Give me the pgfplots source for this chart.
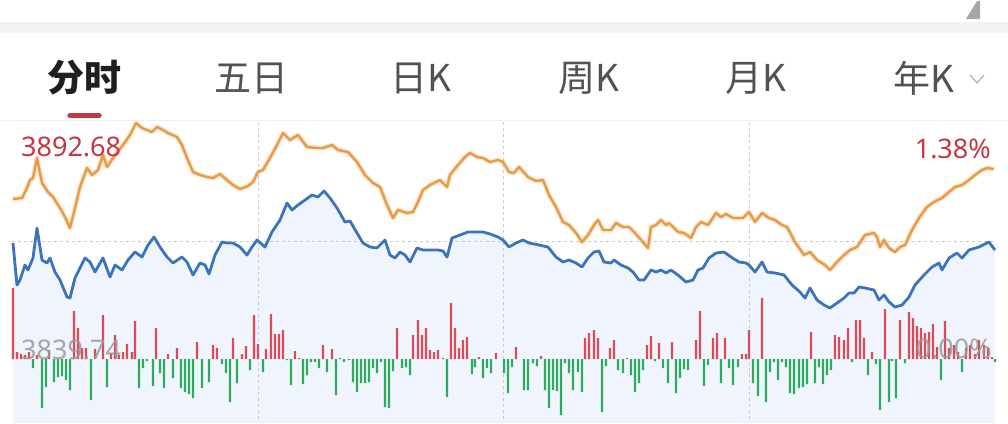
\documentclass[border=0pt]{standalone}
\usepackage{pgfplots}
\pgfplotsset{compat=1.18}
\usepackage{pgfplotstable}
\usepackage{fontspec}
\setmainfont{Noto Sans}
\newfontfamily\cjk{Noto Sans CJK SC}
\newfontfamily\num{Noto Sans}
\definecolor{orangeL}{HTML}{E99A45}
\definecolor{blueL}{HTML}{3B74BA}
\definecolor{fillB}{HTML}{F0F5FD}
\definecolor{redB}{HTML}{DB4A57}
\definecolor{greenB}{HTML}{2DAA5D}
\definecolor{redT}{HTML}{C43844}
\definecolor{grid}{HTML}{C9C9C9}

% pixel coordinates (x, y from top)
\pgfplotstableread{
x y
13 199
22 198
27 188
30 180
33 178
37 158
42 183
48 192
53 197
60 208
65 217
70 228
75 208
80 187
87 168
92 175
98 170
103 155
107 167
115 155
123 145
130 135
136 123
142 128
147 130
152 132
157 127
163 130
168 133
177 137
182 145
187 158
193 172
200 175
207 177
213 178
220 174
227 180
233 185
240 189
248 186
253 182
258 172
263 170
270 158
277 145
283 133
290 140
298 135
307 147
317 148
323 148
332 145
338 150
348 152
357 162
365 175
373 183
380 187
387 205
393 218
398 210
407 213
413 212
418 202
423 190
430 185
440 180
447 187
450 175
458 165
465 157
470 153
477 157
483 158
490 162
498 160
503 162
509 172
514 173
519 167
528 177
536 181
543 180
549 195
556 207
563 222
569 225
576 233
582 242
588 235
594 225
598 220
603 230
611 230
616 223
623 227
629 227
634 232
643 242
648 248
651 227
656 225
661 220
666 225
669 223
678 232
684 233
691 238
696 227
701 222
708 225
716 213
721 217
726 214
733 218
743 218
749 212
755 222
762 213
769 218
775 220
782 225
787 227
795 242
804 255
810 252
817 260
825 265
830 270
837 262
844 255
850 250
857 247
865 235
874 233
877 237
880 247
884 240
889 248
895 252
900 247
905 245
912 230
919 218
927 207
934 202
942 198
949 192
955 187
962 185
969 180
975 175
982 170
987 168
994 169
}\orangedata

\pgfplotstableread{
x y
13 243
17 285
20 280
25 265
28 270
33 258
37 228
42 260
47 263
50 258
55 272
60 280
67 297
70 298
75 278
80 268
85 258
90 262
95 272
100 263
103 258
110 277
115 265
122 270
128 260
135 252
142 257
148 245
154 237
160 247
167 257
173 263
182 257
187 262
193 275
200 263
205 265
209 274
215 255
222 242
227 243
233 243
240 247
247 255
252 247
257 240
265 247
272 232
280 220
287 203
292 210
298 205
305 200
312 195
318 197
324 191
330 198
337 208
345 222
350 221
357 233
363 243
370 247
377 248
385 240
390 255
395 258
400 252
405 255
410 262
417 248
423 250
432 250
438 250
443 251
447 257
452 238
460 235
468 232
477 232
483 232
490 234
498 237
503 240
509 247
516 243
523 240
529 243
539 245
548 247
556 257
563 262
569 260
576 263
582 267
588 258
594 252
599 251
604 262
611 263
614 260
621 265
628 268
633 272
639 280
644 280
651 270
656 272
661 270
666 273
671 270
678 275
686 282
693 280
698 270
703 268
709 258
716 253
724 252
731 257
739 262
746 263
749 265
755 272
762 262
767 272
775 273
784 275
792 285
800 292
805 298
810 288
817 300
824 305
830 308
837 303
844 298
849 293
854 293
859 287
865 288
874 290
879 300
884 295
889 302
895 307
902 305
909 297
915 285
924 275
932 267
939 263
942 270
949 258
957 253
962 258
969 250
979 247
989 242
995 250
}\bluedata

\pgfplotstableread{
x h
13 71
17 7
21 5
25 4
29 7
37 4
49 9
74 48
78 31
82 11
86 11
95 10
103 44
111 6
115 24
119 4
123 7
127 15
132 7
135 38
156 31
168 5
177 11
197 17
213 14
217 11
233 21
242 5
246 13
254 44
258 15
266 10
271 45
275 25
279 25
283 29
295 8
299 1
323 14
332 10
340 1
397 31
413 24
418 39
422 24
426 31
430 9
434 7
438 9
443 1
451 56
455 31
459 11
463 19
467 22
479 2
496 6
516 12
541 3
585 21
589 26
594 29
598 21
610 11
614 19
627 1
647 14
651 23
659 16
672 17
696 19
700 48
713 21
717 26
725 21
742 5
746 5
749 29
762 61
811 27
835 24
839 22
844 19
848 31
856 39
860 39
864 21
872 7
885 50
900 39
909 47
913 41
917 33
921 31
925 26
929 27
933 35
937 12
945 38
949 11
954 14
958 7
966 11
970 14
975 5
979 19
984 14
988 11
992 2
}\reddata

\pgfplotstableread{
x h
33 -9
42 -49
46 -28
54 -23
58 -18
62 -17
66 -21
70 -31
91 -41
107 -28
139 -29
143 -9
147 -2
153 -27
160 -14
164 -29
173 -19
181 -29
185 -33
189 -35
193 -39
202 -29
209 -23
222 -5
226 -14
230 -43
237 -24
250 -11
263 -13
287 -1
291 -26
303 -25
307 -16
311 -3
315 -3
319 -9
327 -13
336 -36
344 -3
349 -1
353 -23
357 -33
361 -24
365 -24
369 -23
373 -9
377 -14
381 -3
385 -48
389 -49
393 -12
402 -9
406 -8
410 -16
447 -38
472 -15
475 -8
483 -19
487 -9
491 -14
504 -14
508 -34
512 -8
524 -31
528 -31
533 -4
537 -7
545 -31
549 -49
553 -31
557 -32
561 -56
565 -4
569 -14
573 -31
578 -13
582 -33
602 -53
606 -7
618 -11
623 -14
631 -16
635 -33
639 -24
643 -11
655 -2
663 -9
668 -24
676 -34
680 -19
684 -10
688 -11
704 -27
708 -6
721 -24
729 -9
733 -26
738 -8
753 -24
758 -37
766 -43
770 -13
774 -3
778 -21
782 -3
786 -8
790 -34
794 -35
799 -29
803 -28
807 -25
815 -24
819 -8
823 -25
827 -16
831 -11
852 -3
868 -16
876 -5
880 -51
889 -43
892 -2
896 -39
905 -4
941 -21
962 -13
995 -3
}\greendata

\pgfplotsset{base/.style={width=1008pt,height=423pt,scale only axis,
  xmin=0,xmax=1008,hide axis,clip=false,at={(0,0)},anchor=south west}}

\begin{document}
\begin{tikzpicture}
\fill[white] (0,0) rectangle (1008pt,423pt);
% background layer
\begin{axis}[base,ymin=0,ymax=423,y dir=reverse]
  \addplot[fill=fillB,draw=none] table[x=x,y=y] {\bluedata} -- (axis cs:995,423) -- (axis cs:13,423) -- cycle;
  \fill[color=black!5] (axis cs:0,22) rectangle (axis cs:1008,33);
  \fill[color=black!35] (axis cs:977,1) -- (axis cs:980,1) -- (axis cs:980,19) -- (axis cs:966,19) -- cycle;
  \draw[color=black!6, line width=1pt] (axis cs:0,120.5) -- (axis cs:1008,120.5);
  \draw[grid,dash pattern=on 3pt off 3pt,line width=0.9pt] (axis cs:12,241) -- (axis cs:995,241);
  \draw[grid,dash pattern=on 3pt off 3pt,line width=0.9pt] (axis cs:258,122) -- (axis cs:258,420);
  \draw[grid,dash pattern=on 3pt off 3pt,line width=0.9pt] (axis cs:503,122) -- (axis cs:503,420);
  \draw[grid,dash pattern=on 3pt off 3pt,line width=0.9pt] (axis cs:749,122) -- (axis cs:749,420);
\end{axis}
% bars
\begin{axis}[base,ymin=-64,ymax=359,ybar,bar width=2.4pt,bar shift=0pt]
  \addplot[fill=redB,draw=none] table[x=x,y=h] {\reddata};
  \addplot[fill=greenB,draw=none] table[x=x,y=h] {\greendata};
\end{axis}
% lines and texts
\begin{axis}[base,ymin=0,ymax=423,y dir=reverse]
  \addplot[orangeL,opacity=0.25,line width=5pt,line join=round] table[x=x,y=y] {\orangedata};
  \addplot[orangeL,line width=2.4pt,line join=round] table[x=x,y=y] {\orangedata};
  \addplot[blueL,line width=2.8pt,line join=round] table[x=x,y=y] {\bluedata};
  \node[anchor=west,inner sep=0pt,text=redT,font=\num\fontsize{27}{30}\selectfont] at (axis cs:21,147) {3892.68};
  \node[anchor=east,inner sep=0pt,text=redT,font=\num\fontsize{27}{30}\selectfont] at (axis cs:991,149) {1.38\%};
  \node[anchor=west,inner sep=0pt,text=black!40,opacity=0.85,font=\num\fontsize{27}{30}\selectfont] at (axis cs:21,350) {3839.74};
  \node[anchor=east,inner sep=0pt,text=black!40,opacity=0.85,font=\num\fontsize{27}{30}\selectfont] at (axis cs:992,349) {0.00\%};
  \node[inner sep=0pt,text=black!88,font=\cjk\bfseries\fontsize{37}{40}\selectfont] at (axis cs:84,78) {分时};
  \node[inner sep=0pt,text=black!68,font=\cjk\fontsize{37}{40}\selectfont] at (axis cs:251,78) {五日};
  \node[inner sep=0pt,text=black!68,font=\cjk\fontsize{37}{40}\selectfont] at (axis cs:421,78) {日K};
  \node[inner sep=0pt,text=black!68,font=\cjk\fontsize{37}{40}\selectfont] at (axis cs:589,78) {周K};
  \node[inner sep=0pt,text=black!68,font=\cjk\fontsize{37}{40}\selectfont] at (axis cs:756,78) {月K};
  \node[inner sep=0pt,text=black!68,font=\cjk\fontsize{37}{40}\selectfont] at (axis cs:924,78) {年K};
  \draw[black!30,line width=1.2pt] (axis cs:970,75) -- (axis cs:977,83) -- (axis cs:984,75);
  \draw[redT,line width=5.5pt,line cap=round] (axis cs:70,115.5) -- (axis cs:99,115.5);
\end{axis}
\pgfresetboundingbox
\path[use as bounding box] (0,0) rectangle (1008pt,423pt);
\end{tikzpicture}
\end{document}
